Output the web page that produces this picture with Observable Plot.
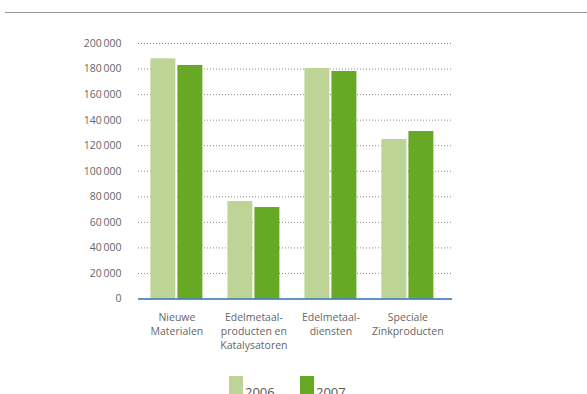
<!DOCTYPE html>
<html>
<head>
<meta charset="utf-8">
<script src="https://cdn.jsdelivr.net/npm/d3@7"></script>
<script src="https://cdn.jsdelivr.net/npm/@observablehq/plot@0.6"></script>
<style>
  html, body { margin: 0; padding: 0; background: #fff; overflow: hidden; }
  #wrap { position: relative; width: 587px; height: 394px; font-family: "Open Sans", sans-serif; overflow: hidden; }
  #topline { position: absolute; left: 5px; right: 0; top: 12px; height: 0; border-top: 1.5px solid #9a9a9a; }
  #chart { position: absolute; left: 0; top: 0; }
  #legend { position: absolute; top: 376px; left: 0; width: 587px; height: 18px; overflow: hidden; }
  .sw { position: absolute; top: 0; width: 14px; height: 24px; }
  .lt { position: absolute; top: 8px; font-size: 13px; color: #555; line-height: 16px; }
</style>
</head>
<body>
<div id="wrap">
  <div id="topline"></div>
  <div id="chart"></div>
  <div id="legend"></div>
</div>
<script>
const categories = ["Nieuwe Materialen", "Edelmetaalproducten en Katalysatoren", "Edelmetaaldiensten", "Speciale Zinkproducten"];
const categoryLabels = ["Nieuwe\nMaterialen", "Edelmetaal-\nproducten en\nKatalysatoren", "Edelmetaal-\ndiensten", "Speciale\nZinkproducten"];
const years = ["2006", "2007"];
const values2006 = [188000, 76300, 180400, 124900];
const values2007 = [182800, 71600, 178100, 131100];
const yTicks = [0, 20000, 40000, 60000, 80000, 100000, 120000, 140000, 160000, 180000, 200000];
const colors = ["#bed496", "#67a824"];

const data2006 = categories.map((c, i) => ({category: c, year: "2006", value: values2006[i]}));
const data2007 = categories.map((c, i) => ({category: c, year: "2007", value: values2007[i]}));

const fmt = d => d3.format(",")(d).replace(/,/g, "\u2009");

const chart = Plot.plot({
  width: 587,
  height: 370,
  marginLeft: 138,
  marginRight: 135,
  marginTop: 43,
  marginBottom: 71.5,
  style: {fontFamily: "'Open Sans', sans-serif", background: "transparent"},
  x: {domain: categories, paddingInner: 0.325, paddingOuter: 0.2015, align: 0.4, round: false},
  y: {domain: [0, 200000]},
  color: {domain: years, range: colors},
  marks: [
    Plot.ruleY(yTicks.filter(d => d > 0), {stroke: "#8a8a8a", strokeWidth: 1, strokeDasharray: "1,2"}),
    Plot.barY(data2006, {x: "category", y: "value", fill: "year", insetRight: 27, insetLeft: 0}),
    Plot.barY(data2007, {x: "category", y: "value", fill: "year", insetLeft: 27, insetRight: 0}),
    Plot.ruleY([0], {stroke: "#2a72ab", strokeWidth: 1.5}),
    Plot.axisY({ticks: yTicks, tickFormat: fmt, tickSize: 0, tickPadding: 17, label: null, fontSize: 10.5, color: "#666"}),
    Plot.axisX({tickSize: 0, tickPadding: 12, label: null, tickFormat: (d) => categoryLabels[categories.indexOf(d)], fontSize: 10.5, lineHeight: 1.33, color: "#666"})
  ]
});
document.getElementById("chart").appendChild(chart);

const legend = document.getElementById("legend");
const legendX = [229, 300];
years.forEach((y, i) => {
  const sw = document.createElement("div");
  sw.className = "sw";
  sw.style.left = legendX[i] + "px";
  sw.style.background = colors[i];
  legend.appendChild(sw);
  const t = document.createElement("div");
  t.className = "lt";
  t.style.left = (legendX[i] + 16) + "px";
  t.textContent = y;
  legend.appendChild(t);
});
</script>
</body>
</html>
